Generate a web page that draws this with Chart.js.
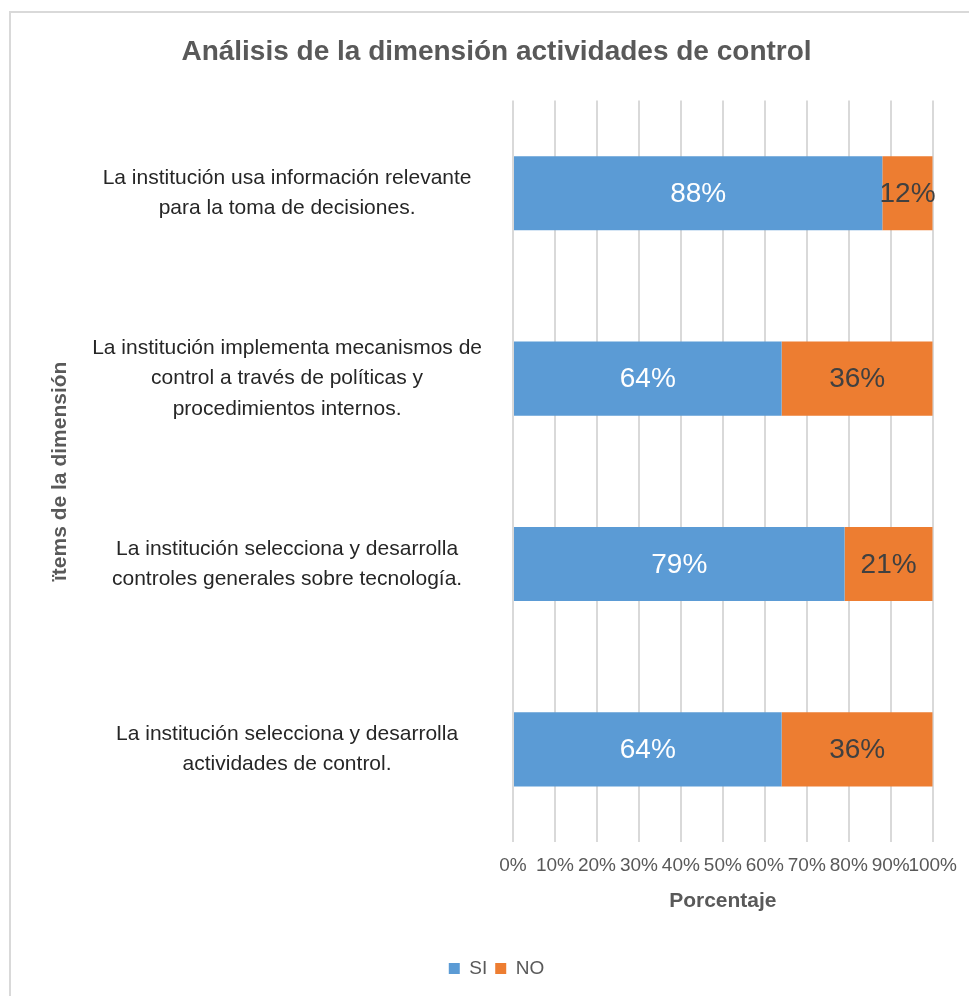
<!DOCTYPE html>
<html>
<head>
<meta charset="utf-8">
<script src="https://cdn.jsdelivr.net/npm/chart.js@4/dist/chart.umd.min.js"></script>
<style>
  html, body { margin: 0; padding: 0; background: #fff; overflow: hidden; }
  #wrap { position: relative; width: 969px; height: 996px; }
  #marco { position: absolute; left: 9px; top: 11px; width: 1000px; height: 1000px;
           border-left: 2px solid #d9d9d9; border-top: 2px solid #d9d9d9; pointer-events: none; }
</style>
</head>
<body>
<div id="wrap">
  <canvas id="grafico" width="969" height="996"></canvas>
  <div id="marco"></div>
</div>
<script>
// datos del gráfico
const categorias = [
  ['La institución usa información relevante', 'para la toma de decisiones.'],
  ['La institución implementa mecanismos de', 'control a través de políticas y', 'procedimientos internos.'],
  ['La institución selecciona y desarrolla', 'controles generales sobre tecnología.'],
  ['La institución selecciona y desarrolla', 'actividades de control.']
];
const valoresSI = [88, 64, 79, 64];
const valoresNO = [12, 36, 21, 36];
const titulo = 'Análisis de la dimensión actividades de control';
const tituloX = 'Porcentaje';
const tituloY = 'ïtems de la dimensión';

const FUENTE = "'Liberation Sans Narrow', 'Arial Narrow', 'Liberation Sans', Arial, sans-serif";

// etiquetas de porcentaje dentro de cada barra
const etiquetasBarras = {
  id: 'etiquetasBarras',
  afterDatasetsDraw(chart) {
    const ctx = chart.ctx;
    ctx.save();
    ctx.font = '28px ' + FUENTE;
    ctx.textAlign = 'center';
    ctx.textBaseline = 'middle';
    chart.data.datasets.forEach((ds, i) => {
      const meta = chart.getDatasetMeta(i);
      meta.data.forEach((bar, j) => {
        const x = (bar.x + bar.base) / 2;
        ctx.fillStyle = i === 0 ? '#ffffff' : '#404040';
        ctx.fillText(ds.data[j] + '%', x, bar.y + 1);
      });
    });
    ctx.restore();
  }
};

new Chart(document.getElementById('grafico'), {
  type: 'bar',
  data: {
    labels: categorias,
    datasets: [
      { label: 'SI', data: valoresSI, backgroundColor: '#5b9bd5', barPercentage: 0.4, categoryPercentage: 1 },
      { label: 'NO', data: valoresNO, backgroundColor: '#ed7d31', barPercentage: 0.4, categoryPercentage: 1 }
    ]
  },
  options: {
    indexAxis: 'y',
    responsive: false,
    animation: false,
    layout: { padding: { left: 60, right: 36, top: 0, bottom: 8 } },
    scales: {
      x: {
        stacked: true,
        min: 0, max: 100,
        ticks: { stepSize: 10, callback: v => v + '%', color: '#595959', padding: 12,
                 font: { family: FUENTE, size: 19 }, maxRotation: 0, autoSkip: false },
        grid: { color: '#d9d9d9', lineWidth: 2, drawTicks: false },
        border: { display: false },
        title: { display: true, text: tituloX, color: '#595959', padding: { top: 0, bottom: 37 },
                 font: { family: FUENTE, size: 21, weight: 'bold' } }
      },
      y: {
        stacked: true,
        ticks: { color: '#262626', padding: 23, crossAlign: 'center',
                 font: { family: FUENTE, size: 21, lineHeight: 1.45 } },
        grid: { display: false },
        border: { display: false },
        title: { display: true, text: tituloY, color: '#595959', padding: { top: -12, bottom: 0 },
                 font: { family: FUENTE, size: 21, weight: 'bold' } },
        afterFit(scale) { scale.width = 453; }
      }
    },
    plugins: {
      title: { display: true, text: titulo, color: '#595959',
               padding: { top: 35, bottom: 32 },
               font: { family: FUENTE, size: 28, weight: 'bold' } },
      legend: { position: 'bottom',
                labels: { boxWidth: 11, boxHeight: 11, color: '#595959', padding: 8,
                          font: { family: FUENTE, size: 19 } } },
      tooltip: { enabled: false }
    }
  },
  plugins: [etiquetasBarras]
});
</script>
</body>
</html>
